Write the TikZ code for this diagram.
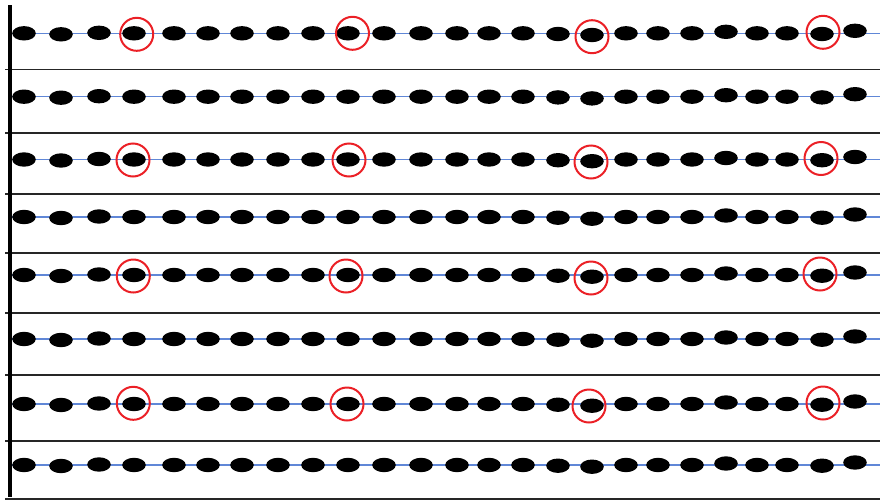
\documentclass[tikz,border=0pt]{standalone}
\definecolor{rowblue}{RGB}{96,135,215}
\definecolor{ringred}{RGB}{235,32,38}
\begin{document}
\begin{tikzpicture}[x=1pt,y=-1pt,
  sepline/.style={draw=black!85,line width=1.1pt},
  rowline/.style={draw=rowblue,line width=1.2pt},
  bead/.style={fill=black},
  ring/.style={draw=ringred,line width=2pt},
  axisline/.style={draw=black,line width=3.5pt}]
\useasboundingbox (0,0) rectangle (880,501);
% separators
\foreach \y in {69.5,133,194,253,313,375,441,499}
  \draw[sepline] (5,\y) -- (880,\y);
% rows
\foreach \y in {33.3,96.7,159.5,217,275,339,404,465}{
  \draw[rowline] (12,\y) -- (880,\y);
  \foreach \x/\d in {24/0,61/1,99/-0.5,134/0,174/0,208/0,242/0,278/0,313/0,348/0,384/0,421/0,457/0,489/0,523/0,558/0.7,592/1.7,626/0,658/0,692/0,726/-1.5,757/0,787/0,822/0.7,855/-2.5}
    \fill[bead] (\x,\y+\d) ellipse [x radius=11.8, y radius=7.2];
}
% rings
\foreach \cx/\cy in {136.7/34.3,352.5/33.3,592/36.7,823/32.3,
                     133/160,349/160,591/162,821/158.5,
                     133.3/276,346/276,591/278,820/274,
                     133.3/403.3,347/404,589/406,823/403}
  \draw[ring] (\cx,\cy) circle [radius=16.5];
% left axis
\draw[axisline] (10,5) -- (10,497);
\end{tikzpicture}
\end{document}
